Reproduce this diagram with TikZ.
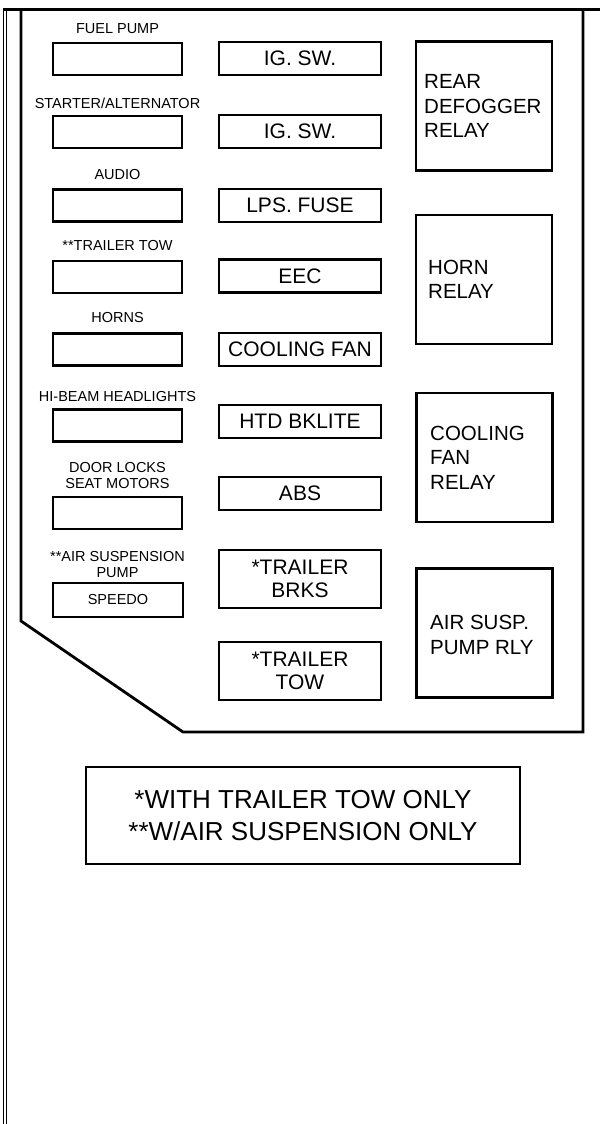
\documentclass[tikz,border=0pt]{standalone}
\usepackage{fontspec}
\setmainfont{Liberation Sans}
\begin{document}
\begin{tikzpicture}[x=1pt,y=-1pt,
  frame/.style={line width=1pt},
  panel/.style={line width=2.8pt, line join=miter},
  smallfuse/.style={draw, line width=2.3pt, inner sep=0pt, minimum width=129pt, minimum height=32pt},
  midfuse/.style={draw, line width=2.3pt, inner sep=0pt, minimum width=162pt, minimum height=33pt, font=\fontsize{21}{22.5}\selectfont, align=center},
  tallfuse/.style={midfuse, minimum height=58pt},
  relay/.style={draw, line width=2.3pt, inner sep=0pt, minimum width=136pt, minimum height=129pt},
  relaytext/.style={anchor=west, align=left, inner sep=0pt, font=\fontsize{20.5}{24.5}\selectfont},
  lbl/.style={inner sep=0pt, align=center, font=\fontsize{14.5}{16}\selectfont},
  note/.style={draw, line width=2.3pt, inner sep=0pt, minimum width=434pt, minimum height=97pt, align=center, font=\fontsize{26}{32}\selectfont}
]
\useasboundingbox (0,0) rectangle (600,1124);
% outer frame
\draw[frame] (3.6,10) -- (3.6,1124);
\draw[frame] (6.2,11) -- (6.2,1124);
\draw[line width=2.2pt] (3,9.5) -- (600,9.5);
% fuse panel outline
\draw[panel] (21,10) -- (21,621) -- (183,732) -- (583,732) -- (583,10);

% left column
\node[lbl] (lfuel) at (117.5,29) {FUEL PUMP};
\node[smallfuse] (ffuel) at (117.5,59) {};
\node[lbl] (lstart) at (117.5,103) {STARTER/ALTERNATOR};
\node[smallfuse] (fstart) at (117.5,132) {};
\node[lbl] (laudio) at (117.5,175) {AUDIO};
\node[smallfuse] (faudio) at (117.5,205.5) {};
\node[lbl] (ltt) at (117.5,246) {**TRAILER TOW};
\node[smallfuse] (ftt) at (117.5,277) {};
\node[lbl] (lhorns) at (117.5,318) {HORNS};
\node[smallfuse] (fhorns) at (117.5,349.5) {};
\node[lbl] (lhib) at (117.5,397) {HI-BEAM HEADLIGHTS};
\node[smallfuse] (fhib) at (117.5,425.5) {};
\node[lbl] (ldoor) at (117.5,476) {DOOR LOCKS\\SEAT MOTORS};
\node[smallfuse] (fdoor) at (117.5,513) {};
\node[lbl] (lair) at (117.5,564.5) {**AIR SUSPENSION\\PUMP};
\node[smallfuse, minimum width=130pt, minimum height=34pt, font=\fontsize{14.5}{16}\selectfont] (fspeedo) at (118,600) {SPEEDO};

% middle column
\node[midfuse] (m1) at (300,58.5) {IG. SW.};
\node[midfuse] (m2) at (300,131.5) {IG. SW.};
\node[midfuse] (m3) at (300,205.5) {LPS. FUSE};
\node[midfuse] (m4) at (300,276) {EEC};
\node[midfuse] (m5) at (300,349.5) {COOLING FAN};
\node[midfuse] (m6) at (300,421.5) {HTD BKLITE};
\node[midfuse] (m7) at (300,493.5) {ABS};
\node[tallfuse] (m8) at (300,579) {*TRAILER\\BRKS};
\node[tallfuse] (m9) at (300,671) {*TRAILER\\TOW};

% right column relays
\node[relay] (r1) at (484,106) {};
\node[relaytext] (t1) at (424,106) {REAR\\DEFOGGER\\RELAY};
\node[relay] (r2) at (484,279.5) {};
\node[relaytext] (t2) at (428,279.5) {HORN\\RELAY};
\node[relay] (r3) at (484.5,457.5) {};
\node[relaytext] (t3) at (430,457.5) {COOLING\\FAN\\RELAY};
\node[relay] (r4) at (484.5,633) {};
\node[relaytext] (t4) at (430,635) {AIR SUSP.\\PUMP RLY};

% footnote
\node[note] (legend) at (303,815.5) {*WITH TRAILER TOW ONLY\\**W/AIR SUSPENSION ONLY};
\end{tikzpicture}
\end{document}
